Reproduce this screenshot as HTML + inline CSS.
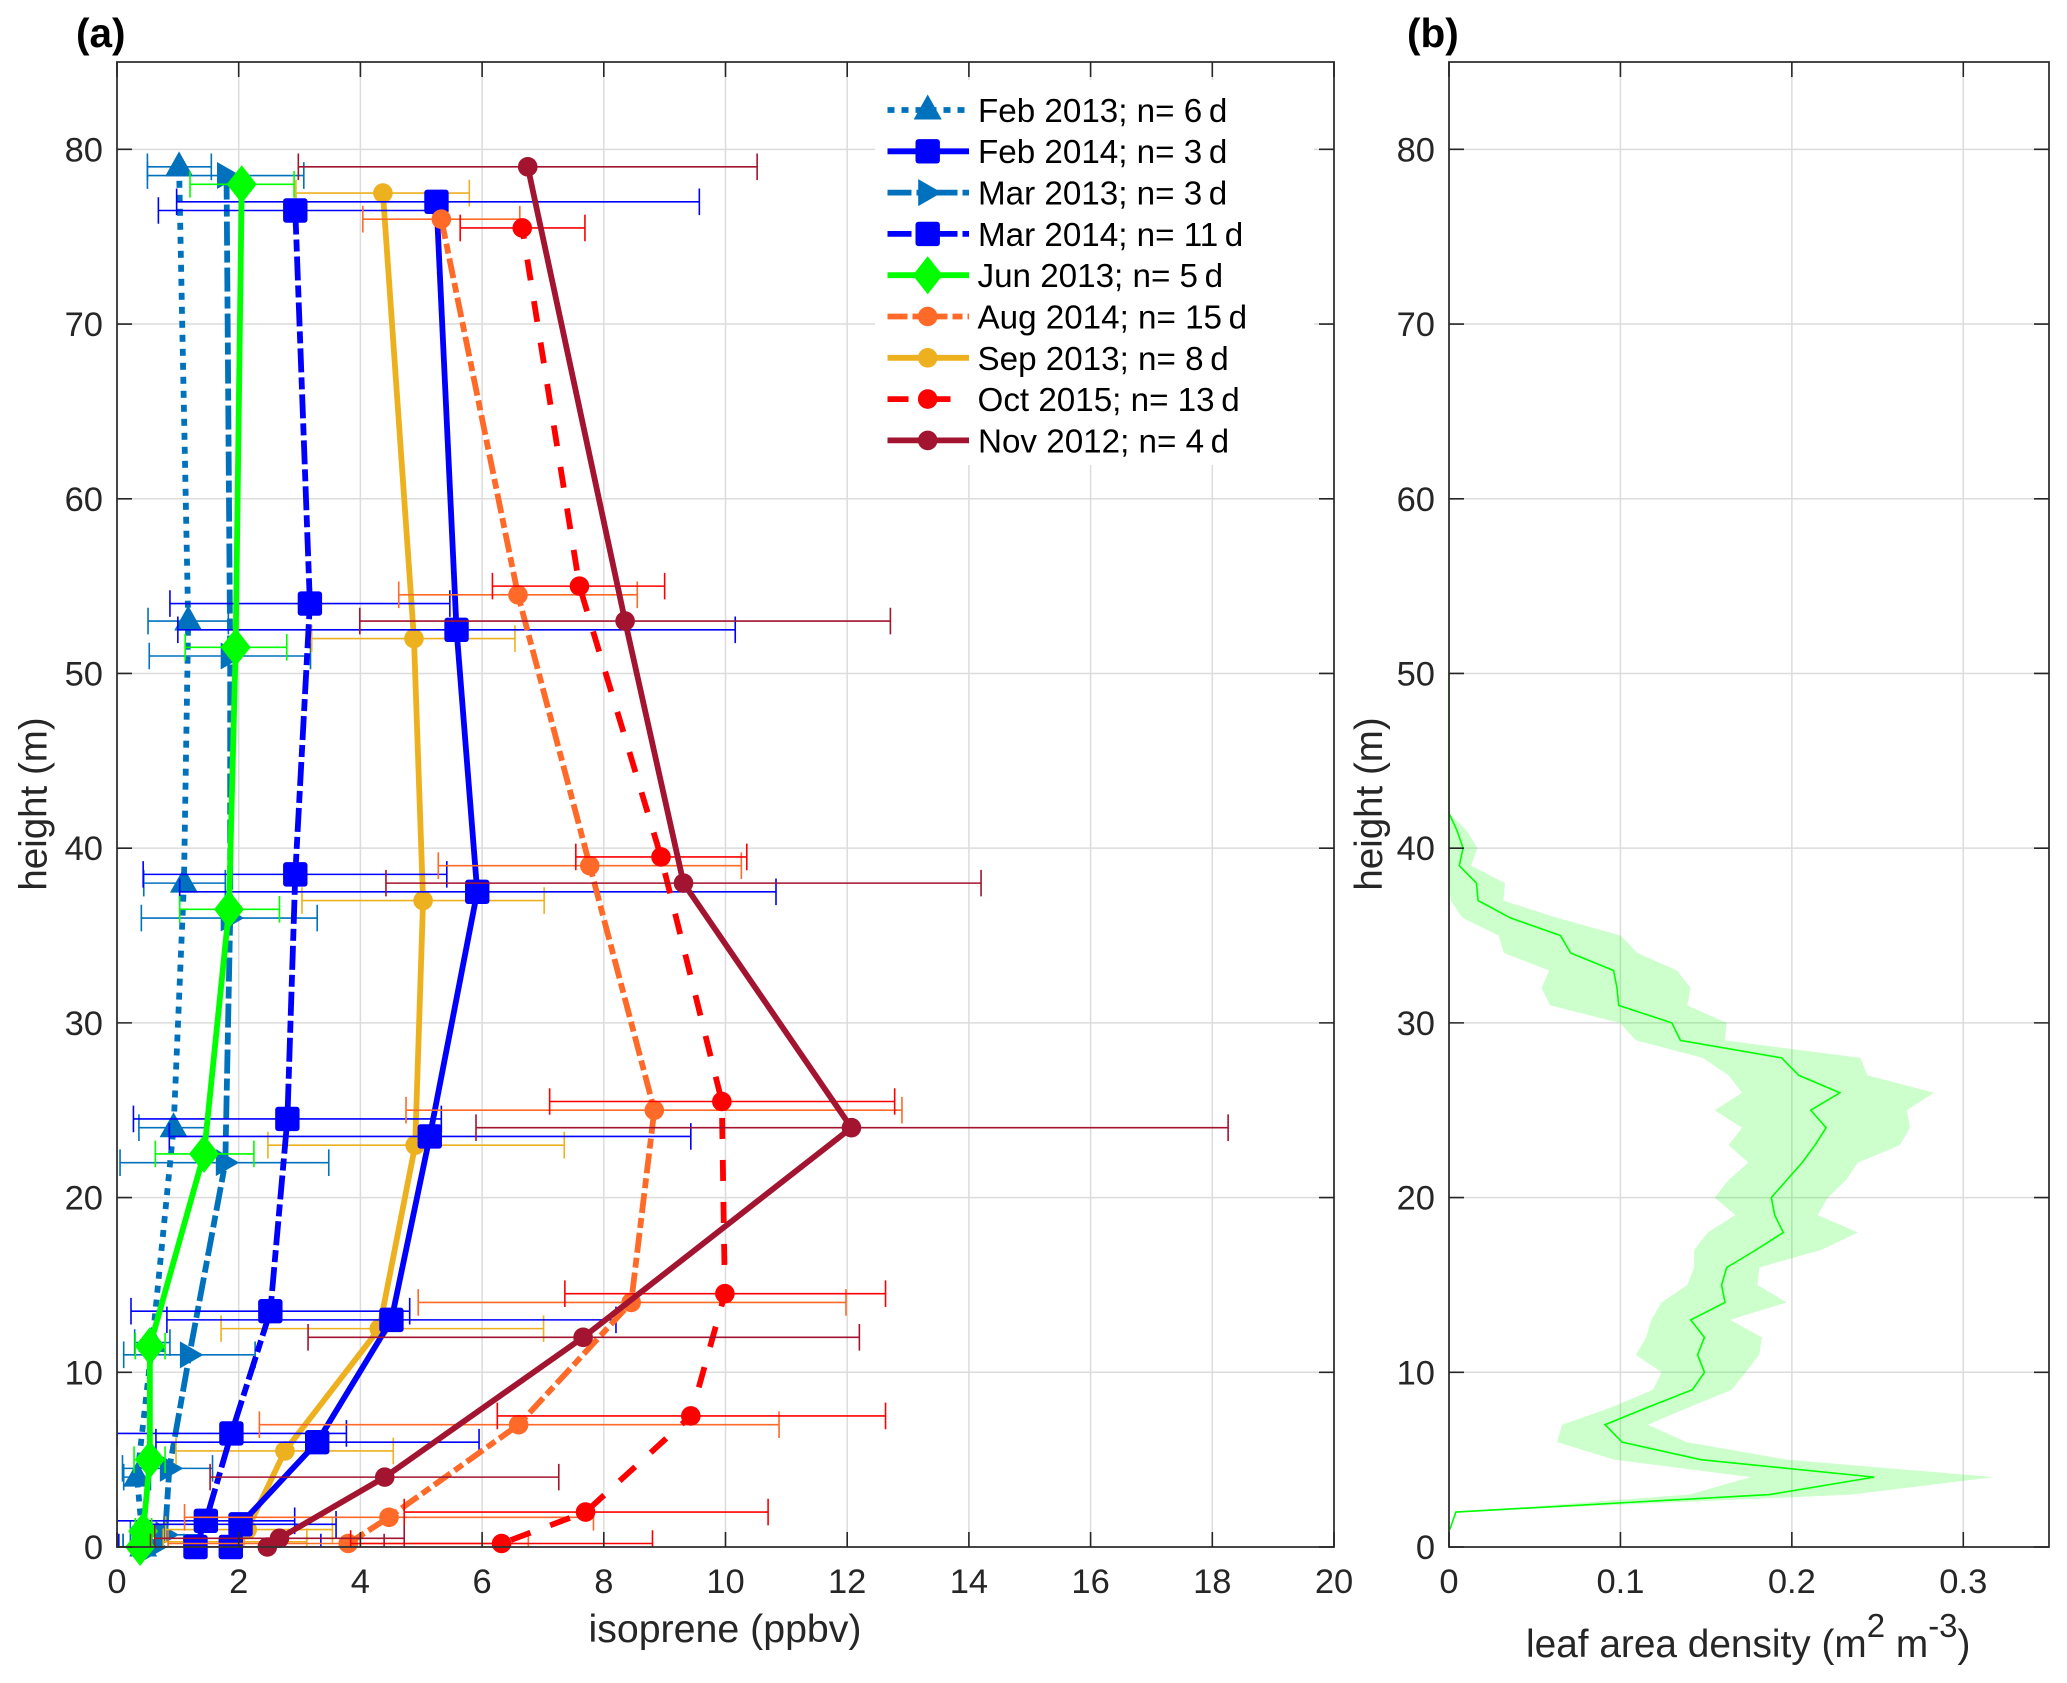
<!DOCTYPE html>
<html lang="en">
<head>
<meta charset="utf-8">
<title>Isoprene and leaf area density profiles</title>
<style>
html,body{margin:0;padding:0;background:#fff;}
svg{display:block;font-family:"Liberation Sans",sans-serif;}
.tick{font-size:34.5px;fill:#262626;}
.axis-title{font-size:38.8px;fill:#262626;}
.panel-label{font-size:40.5px;font-weight:bold;fill:#000;}
.legend-text{font-size:33.2px;fill:#000;}
</style>
</head>
<body>
<svg id="figure" xmlns="http://www.w3.org/2000/svg" width="2067" height="1683" viewBox="0 0 2067 1683">
  <defs>
    <clipPath id="clip-a"><rect x="117" y="62" width="1217" height="1485"></rect></clipPath>
  </defs>
  <rect x="0" y="0" width="2067" height="1683" fill="#fff"></rect>
  <g id="panel-a"></g>
  <g id="panel-b"></g>
  <g id="legend">
    <rect x="875" y="80" width="439" height="385" fill="#fff"></rect>
    <g id="legend-glyphs"></g>
    <text class="legend-text" x="978" y="122">Feb 2013; n= 6&#8201;d</text>
    <text class="legend-text" x="978" y="163">Feb 2014; n= 3&#8201;d</text>
    <text class="legend-text" x="978" y="204.5">Mar 2013; n= 3&#8201;d</text>
    <text class="legend-text" x="978" y="246">Mar 2014; n= 11&#8201;d</text>
    <text class="legend-text" x="977.5" y="287">Jun 2013; n= 5&#8201;d</text>
    <text class="legend-text" x="977.5" y="328.5">Aug 2014; n= 15&#8201;d</text>
    <text class="legend-text" x="977.5" y="370">Sep 2013; n= 8&#8201;d</text>
    <text class="legend-text" x="977.5" y="411">Oct 2015; n= 13&#8201;d</text>
    <text class="legend-text" x="978" y="452.5">Nov 2012; n= 4&#8201;d</text>
  </g>
  <text class="panel-label" x="76" y="47">(a)</text>
  <text class="panel-label" x="1407" y="47">(b)</text>
  <text class="axis-title" x="725" y="1642" text-anchor="middle" style="font-size:39.3px">isoprene (ppbv)</text>
  <text class="axis-title" transform="translate(46.5,804) rotate(-90)" text-anchor="middle" style="font-size:38.5px">height (m)</text>
  <text class="axis-title" transform="translate(1382,804) rotate(-90)" text-anchor="middle" style="font-size:38.5px">height (m)</text>
  <text class="axis-title" x="1526" y="1657">leaf area density (m<tspan font-size="33" dy="-20">2</tspan><tspan dy="20"> m</tspan><tspan font-size="33" dy="-20">-3</tspan><tspan dy="20">)</tspan></text>
</svg>
<script>
// ---------- Panel (a) data: height (m), mean, error-bar low and high (ppbv) ----------
var feb2013Heights = [79, 53, 38, 24, 11.7, 4, 0];
var feb2013Values  = [1.02, 1.17, 1.10, 0.93, 0.58, 0.33, 0.43];
var feb2013Low     = [0.50, 0.51, 0.44, 0.36, 0.29, 0.11, 0.10];
var feb2013High    = [1.55, 1.83, 1.78, 1.48, 0.87, 0.55, 0.76];

var feb2014Heights = [77, 52.5, 37.5, 23.5, 13, 6, 1.3, 0];
var feb2014Values  = [5.25, 5.58, 5.92, 5.14, 4.51, 3.29, 2.03, 1.87];
var feb2014Low     = [0.98, 1.00, 1.03, 0.86, 0.82, 0.64, 0.46, 0.39];
var feb2014High    = [9.57, 10.16, 10.83, 9.43, 8.20, 5.95, 3.60, 3.35];

var mar2013Heights = [78.5, 51, 36, 22, 11, 4.5, 0.7, 0];
var mar2013Values  = [1.80, 1.86, 1.86, 1.78, 1.19, 0.86, 0.79, 0.60];
var mar2013Low     = [0.50, 0.53, 0.40, 0.05, 0.11, 0.09, 0.22, 0.10];
var mar2013High    = [3.07, 3.18, 3.29, 3.48, 2.27, 1.57, 1.36, 1.10];

var mar2014Heights = [76.5, 54, 38.5, 24.5, 13.5, 6.5, 1.5, 0];
var mar2014Values  = [2.93, 3.17, 2.93, 2.80, 2.52, 1.88, 1.46, 1.29];
var mar2014Low     = [0.68, 0.87, 0.43, 0.27, 0.23, 0.00, 0.00, 0.03];
var mar2014High    = [5.20, 5.47, 5.42, 5.33, 4.81, 3.77, 2.92, 2.55];

var jun2013Heights = [78, 51.5, 36.5, 22.5, 11.5, 5, 0.9, 0];
var jun2013Values  = [2.05, 1.95, 1.84, 1.43, 0.54, 0.54, 0.43, 0.38];
var jun2013Low     = [1.20, 1.12, 1.03, 0.63, 0.30, 0.28, 0.30, 0.25];
var jun2013High    = [2.91, 2.79, 2.67, 2.25, 0.79, 0.79, 0.57, 0.50];

var aug2014Heights = [76, 54.5, 39, 25, 14, 7, 1.7, 0.2];
var aug2014Values  = [5.33, 6.59, 7.77, 8.83, 8.45, 6.60, 4.47, 3.80];
var aug2014Low     = [4.04, 4.63, 5.28, 4.75, 4.95, 2.34, 1.11, 0.84];
var aug2014High    = [6.62, 8.55, 10.26, 12.90, 11.98, 10.88, 7.83, 6.76];

var sep2013Heights = [77.5, 52, 37, 23, 12.5, 5.5, 1, 0.3];
var sep2013Values  = [4.37, 4.88, 5.03, 4.90, 4.31, 2.76, 2.14, 1.95];
var sep2013Low     = [2.94, 3.20, 3.04, 2.48, 1.71, 0.97, 0.80, 0.76];
var sep2013High    = [5.79, 6.54, 7.02, 7.35, 7.01, 4.54, 3.54, 3.12];

var oct2015Heights = [75.5, 55, 39.5, 25.5, 14.5, 7.5, 2, 0.2];
var oct2015Values  = [6.66, 7.60, 8.94, 9.94, 9.99, 9.43, 7.70, 6.32];
var oct2015Low     = [5.64, 6.17, 7.54, 7.11, 7.36, 6.25, 4.72, 3.84];
var oct2015High    = [7.69, 9.00, 10.35, 12.78, 12.63, 12.63, 10.70, 8.80];

var nov2012Heights = [79, 53, 38, 24, 12, 4, 0.5, 0];
var nov2012Values  = [6.75, 8.35, 9.31, 12.07, 7.66, 4.40, 2.67, 2.47];
var nov2012Low     = [2.98, 3.99, 4.42, 5.90, 3.14, 1.53, 0.62, 0.55];
var nov2012High    = [10.52, 12.71, 14.20, 18.26, 12.20, 7.26, 4.72, 4.39];

// ---------- Panel (b) data: leaf area density by height (m^2 m^-3) ----------
var ladHeights = [1,2,3,4,5,6,7,8,9,10,11,12,13,14,15,16,17,18,19,20,21,22,23,24,25,26,27,28,29,30,31,32,33,34,35,36,37,38,39,40,41,42,43,44,45,46,47,48,49,50];
var ladMean = [0.0005,0.004,0.187,0.248,0.147,0.101,0.091,0.116,0.142,0.149,0.145,0.149,0.141,0.161,0.159,0.162,0.179,0.195,0.190,0.188,0.197,0.206,0.2135,0.220,0.211,0.228,0.204,0.194,0.135,0.130,0.099,0.098,0.096,0.071,0.065,0.036,0.017,0.016,0.006,0.0082,0.0047,0,0,0,0,0,0,0,0,0];
var ladLow = [0.0005,0.004,0.140,0.176,0.0965,0.063,0.066,0.095,0.119,0.124,0.109,0.115,0.118,0.124,0.139,0.143,0.143,0.151,0.167,0.155,0.163,0.1746,0.163,0.171,0.155,0.171,0.163,0.148,0.109,0.0997,0.059,0.054,0.0585,0.032,0.029,0.008,0.001,0,0,0,0,0,0,0,0,0,0,0,0,0];
var ladHigh = [0.0005,0.004,0.2346,0.318,0.197,0.1386,0.116,0.140,0.165,0.173,0.181,0.1825,0.164,0.197,0.180,0.181,0.217,0.2385,0.215,0.221,0.2316,0.2385,0.263,0.269,0.267,0.283,0.244,0.240,0.161,0.162,0.139,0.141,0.133,0.110,0.100,0.0635,0.0317,0.0327,0.0129,0.0166,0.0104,0,0,0,0,0,0,0,0,0];

// ---------- Tick labels ----------
var isopreneTicks = [0, 2, 4, 6, 8, 10, 12, 14, 16, 18, 20];
var ladTicks = [0, 0.1, 0.2, 0.3];
var heightTicks = [0, 10, 20, 30, 40, 50, 60, 70, 80];

// ---------- Axis functions ----------
var PLOT_TOP = 62, PLOT_BOTTOM = 1547, HEIGHT_MAX = 85;
var A_LEFT = 117, A_RIGHT = 1334, A_MAX = 20;
var B_LEFT = 1449, B_RIGHT = 2049, B_MAX = 0.35;
function yScale(h) { return PLOT_BOTTOM - (h / HEIGHT_MAX) * (PLOT_BOTTOM - PLOT_TOP); }
function xScaleA(v) { return A_LEFT + (v / A_MAX) * (A_RIGHT - A_LEFT); }
function xScaleB(v) { return B_LEFT + (v / B_MAX) * (B_RIGHT - B_LEFT); }

var NS = 'http://www.w3.org/2000/svg';
function mk(parent, tag, attrs, text) {
  var e = document.createElementNS(NS, tag);
  for (var k in attrs) { e.setAttribute(k, attrs[k]); }
  if (text !== undefined) { e.textContent = text; }
  parent.appendChild(e);
  return e;
}

// ---------- Series registry (drawing order) ----------
var seriesList = [
  { key: 'feb-2013', h: feb2013Heights, v: feb2013Values, lo: feb2013Low, hi: feb2013High, color: '#0072BD', dash: '7 7', offset: 0, marker: 'triangle' },
  { key: 'mar-2013', h: mar2013Heights, v: mar2013Values, lo: mar2013Low, hi: mar2013High, color: '#0072BD', dash: '24 5 12 5', offset: 0, marker: 'right-triangle' },
  { key: 'sep-2013', h: sep2013Heights, v: sep2013Values, lo: sep2013Low, hi: sep2013High, color: '#EDB120', dash: '', offset: 0, marker: 'circle' },
  { key: 'feb-2014', h: feb2014Heights, v: feb2014Values, lo: feb2014Low, hi: feb2014High, color: '#0000FF', dash: '', offset: 0, marker: 'square' },
  { key: 'mar-2014', h: mar2014Heights, v: mar2014Values, lo: mar2014Low, hi: mar2014High, color: '#0000FF', dash: '24 5 12 5', offset: 0, marker: 'square' },
  { key: 'jun-2013', h: jun2013Heights, v: jun2013Values, lo: jun2013Low, hi: jun2013High, color: '#00FF00', dash: '', offset: 0, marker: 'diamond' },
  { key: 'aug-2014', h: aug2014Heights, v: aug2014Values, lo: aug2014Low, hi: aug2014High, color: '#FF6A28', dash: '20 5 10 5', offset: 0, marker: 'circle' },
  { key: 'oct-2015', h: oct2015Heights, v: oct2015Values, lo: oct2015Low, hi: oct2015High, color: '#FF0000', dash: '21 21', offset: 10, marker: 'circle' },
  { key: 'nov-2012', h: nov2012Heights, v: nov2012Values, lo: nov2012Low, hi: nov2012High, color: '#A2142F', dash: '', offset: 0, marker: 'circle' }
];
var legendOrder = ['feb-2013', 'feb-2014', 'mar-2013', 'mar-2014', 'jun-2013', 'aug-2014', 'sep-2013', 'oct-2015', 'nov-2012'];

function drawMarker(parent, type, cx, cy, color) {
  if (type === 'square') {
    return mk(parent, 'rect', { x: cx - 12.2, y: cy - 12.2, width: 24.4, height: 24.4, rx: 3, fill: color });
  }
  if (type === 'circle') {
    return mk(parent, 'circle', { cx: cx, cy: cy, r: 9.8, fill: color });
  }
  if (type === 'diamond') {
    return mk(parent, 'polygon', { points: [cx, cy - 19, cx + 15, cy, cx, cy + 19, cx - 15, cy].join(' '), fill: color });
  }
  if (type === 'triangle') {
    return mk(parent, 'polygon', { points: [cx, cy - 15.5, cx + 14, cy + 9.5, cx - 14, cy + 9.5].join(' '), fill: color });
  }
  return mk(parent, 'polygon', { points: [cx - 9.5, cy - 13.5, cx + 14, cy, cx - 9.5, cy + 13.5].join(' '), fill: color });
}

function drawFrame(group, left, right, xFn, xTicks, prefix) {
  var i, p;
  for (i = 0; i < xTicks.length; i++) {
    p = xFn(xTicks[i]);
    var gridX = mk(group, 'line', { x1: p, x2: p, y1: PLOT_TOP, y2: PLOT_BOTTOM, stroke: '#dcdcdc', 'stroke-width': 1.5 });
    
    
  }
  for (i = 0; i < heightTicks.length; i++) {
    p = yScale(heightTicks[i]);
    var gridY = mk(group, 'line', { x1: left, x2: right, y1: p, y2: p, stroke: '#dcdcdc', 'stroke-width': 1.5 });
    
    
  }
}

function drawAxes(group, left, right, xFn, xTicks, prefix) {
  var i, p, d;
  var frame = mk(group, 'rect', { x: left, y: PLOT_TOP, width: right - left, height: PLOT_BOTTOM - PLOT_TOP, fill: 'none', stroke: '#333', 'stroke-width': 1.8 });
  
  
  for (i = 0; i < xTicks.length; i++) {
    p = xFn(xTicks[i]);
    d = 'M' + p + ' ' + PLOT_BOTTOM + 'V' + (PLOT_BOTTOM - 15) + 'M' + p + ' ' + PLOT_TOP + 'V' + (PLOT_TOP + 15);
    var xTick = mk(group, 'path', { d: d, stroke: '#262626', 'stroke-width': 1.6, fill: 'none' });
    
    
    var xLabel = mk(group, 'text', { x: p, y: 1593, 'text-anchor': 'middle', 'class': 'tick' }, String(xTicks[i]));
    
    
  }
  for (i = 0; i < heightTicks.length; i++) {
    p = yScale(heightTicks[i]);
    d = 'M' + left + ' ' + p + 'H' + (left + 15) + 'M' + right + ' ' + p + 'H' + (right - 15);
    var yTick = mk(group, 'path', { d: d, stroke: '#262626', 'stroke-width': 1.6, fill: 'none' });
    
    
    var yLabel = mk(group, 'text', { x: left - 14, y: p + 12, 'text-anchor': 'end', 'class': 'tick' }, String(heightTicks[i]));
    
    
  }
}

// ---------- Panel (a) ----------
var panelA = document.getElementById('panel-a');
drawFrame(panelA, A_LEFT, A_RIGHT, xScaleA, isopreneTicks, 'panel-a');

seriesList.forEach(function (s) {
  var g = mk(panelA, 'g', {});
  
  
  var i;
  var clipped = mk(g, 'g', { 'clip-path': 'url(#clip-a)' });
  for (i = 0; i < s.h.length; i++) {
    var y = yScale(s.h[i]);
    var x1 = xScaleA(s.lo[i]);
    var x2 = xScaleA(s.hi[i]);
    var bar = mk(clipped, 'path', {
      d: 'M' + x1 + ' ' + y + 'H' + x2 + 'M' + x1 + ' ' + (y - 13.3) + 'V' + (y + 13.3) + 'M' + x2 + ' ' + (y - 13.3) + 'V' + (y + 13.3),
      stroke: s.color, 'stroke-width': 1.6, fill: 'none'
    });
    
    
  }
  var pts = s.h.map(function (h, j) { return xScaleA(s.v[j]) + ',' + yScale(h); }).join(' ');
  var attrs = { points: pts, fill: 'none', stroke: s.color, 'stroke-width': 5.8, 'stroke-linejoin': 'round' };
  if (s.dash) { attrs['stroke-dasharray'] = s.dash; }
  if (s.offset) { attrs['stroke-dashoffset'] = s.offset; }
  var line = mk(clipped, 'polyline', attrs);
  
  
  for (i = 0; i < s.h.length; i++) {
    var m = drawMarker(g, s.marker, xScaleA(s.v[i]), yScale(s.h[i]), s.color);
    
    
  }
});
drawAxes(panelA, A_LEFT, A_RIGHT, xScaleA, isopreneTicks, 'panel-a');

// ---------- Panel (b) ----------
var panelB = document.getElementById('panel-b');
drawFrame(panelB, B_LEFT, B_RIGHT, xScaleB, ladTicks, 'panel-b');
var bandPts = [];
ladHeights.forEach(function (h, i) { bandPts.push(xScaleB(ladLow[i]) + ',' + yScale(h)); });
for (var bi = ladHeights.length - 1; bi >= 0; bi--) {
  bandPts.push(xScaleB(ladHigh[bi]) + ',' + yScale(ladHeights[bi]));
}
var band = mk(panelB, 'polygon', { points: bandPts.join(' '), fill: '#00FF00', 'fill-opacity': 0.2, stroke: 'none' });


var ladLine = mk(panelB, 'polyline', {
  points: ladHeights.map(function (h, i) { return xScaleB(ladMean[i]) + ',' + yScale(h); }).join(' '),
  fill: 'none', stroke: '#00FF00', 'stroke-width': 1.6
});


drawAxes(panelB, B_LEFT, B_RIGHT, xScaleB, ladTicks, 'panel-b');

// ---------- Legend glyphs ----------
var legendGlyphs = document.getElementById('legend-glyphs');
legendOrder.forEach(function (key, row) {
  var s = seriesList.filter(function (c) { return c.key === key; })[0];
  var y = 110 + row * 41.3;
  var attrs = { x1: 887.5, x2: 969, y1: y, y2: y, stroke: s.color, 'stroke-width': 5.8 };
  if (s.dash) { attrs['stroke-dasharray'] = s.dash; }
  var sample = mk(legendGlyphs, 'line', attrs);
  
  
  var mark = drawMarker(legendGlyphs, s.marker, 927.7, y, s.color);
  
  
});
</script>
</body>
</html>
